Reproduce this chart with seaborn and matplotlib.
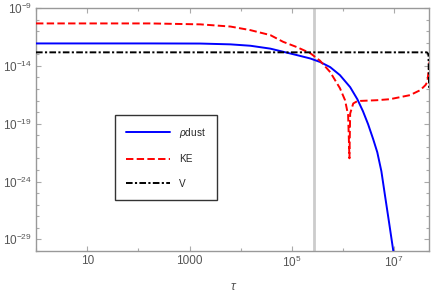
import matplotlib
matplotlib.use("Agg")
import matplotlib.pyplot as plt
from matplotlib.ticker import FixedLocator, FixedFormatter, NullFormatter
import seaborn as sns
import pandas as pd
import numpy as np

# データ (log10 tau と log10 値)
rho_log_tau = [0, 2.23, 3.21, 3.80, 4.19, 4.58, 4.83, 5.10, 5.36, 5.55, 5.75, 5.94, 6.14,
               6.28, 6.39, 6.49, 6.59, 6.67, 6.75, 6.82, 6.90, 6.99]
rho_log_val = [-12.06, -12.06, -12.07, -12.14, -12.26, -12.51, -12.78, -13.07, -13.36,
               -13.66, -14.11, -14.80, -15.84, -16.88, -17.92, -19.04, -20.34, -21.47,
               -23.11, -25.19, -27.53, -30.21]

ke_log_tau = [0, 2.23, 3.21, 3.80, 4.19, 4.58, 4.83, 5.10, 5.36, 5.55, 5.75, 5.94, 6.04,
              6.10, 6.126, 6.14, 6.20, 6.26, 6.34, 6.66, 6.92, 7.31, 7.51, 7.61, 7.65,
              7.67, 7.70]
ke_log_val = [-10.33, -10.33, -10.41, -10.60, -10.91, -11.34, -11.92, -12.38, -12.90,
              -13.55, -14.54, -15.93, -16.97, -18.26, -21.99, -18.12, -17.25, -17.10,
              -17.03, -16.97, -16.88, -16.53, -16.10, -15.67, -15.38, -14.52, -13.33]

v_log_tau = [0, 3, 6, 7.5, 7.64, 7.67, 7.683]
v_log_val = [-12.83, -12.83, -12.83, -12.83, -12.83, -13.0, -15.9]

tau_mark = 2.75e5

x_major = [10, 1000, 1e5, 1e7]
x_major_labels = ["10", "1000", r"$10^{5}$", r"$10^{7}$"]
x_minor = [1, 100, 1e4, 1e6]
y_major_exp = [-29, -24, -19, -14, -9]

rho_df = pd.DataFrame({"tau": 10.0 ** np.array(rho_log_tau), "val": 10.0 ** np.array(rho_log_val)})
ke_df = pd.DataFrame({"tau": 10.0 ** np.array(ke_log_tau), "val": 10.0 ** np.array(ke_log_val)})
v_df = pd.DataFrame({"tau": 10.0 ** np.array(v_log_tau), "val": 10.0 ** np.array(v_log_val)})

sns.set_style("ticks")
plt.rcParams["font.family"] = ["Liberation Sans", "DejaVu Sans"]
plt.rcParams["mathtext.fontset"] = "custom"
plt.rcParams["mathtext.rm"] = "Liberation Sans"
plt.rcParams["mathtext.it"] = "Liberation Sans:italic"
plt.rcParams["mathtext.default"] = "regular"

fig = plt.figure(figsize=(4.36, 2.98), dpi=100)
ax = fig.add_axes([0.0826, 0.158, 0.9014, 0.815])

ax.axvline(tau_mark, color="#cccccc", lw=2.0, zorder=1)

sns.lineplot(data=rho_df, x="tau", y="val", ax=ax, color="blue", lw=1.4,
             estimator=None, sort=False, label=r"$\mathit{\rho}$dust", zorder=3)
sns.lineplot(data=ke_df, x="tau", y="val", ax=ax, color="red", lw=1.4,
             estimator=None, sort=False, label="KE", zorder=3)
sns.lineplot(data=v_df, x="tau", y="val", ax=ax, color="black", lw=1.4,
             estimator=None, sort=False, label="V", zorder=3)
ax.lines[2].set_dashes([3.8, 1.7])
ax.lines[3].set_dashes([3.4, 1.2, 1.1, 1.2])

ax.set_xscale("log")
ax.set_yscale("log")
ax.set_xlim(1, 4.8e7)
ax.set_ylim(1e-30, 1e-9)

ax.xaxis.set_major_locator(FixedLocator(x_major))
ax.xaxis.set_major_formatter(FixedFormatter(x_major_labels))
ax.xaxis.set_minor_locator(FixedLocator(x_minor))
ax.xaxis.set_minor_formatter(NullFormatter())
ax.yaxis.set_major_locator(FixedLocator([10.0 ** e for e in y_major_exp]))
ax.yaxis.set_major_formatter(FixedFormatter([r"$10^{%d}$" % e for e in y_major_exp]))
ax.yaxis.set_minor_locator(FixedLocator([10.0 ** e for e in range(-30, -8) if e not in y_major_exp]))
ax.yaxis.set_minor_formatter(NullFormatter())

ax.tick_params(which="both", direction="in", top=True, right=True, color="#aaaaaa",
               labelcolor="#555555", labelsize=8.5, width=0.8)
ax.tick_params(which="major", length=3.5, pad=3)
ax.tick_params(which="minor", length=2)
for s in ax.spines.values():
    s.set_color("#999999")
    s.set_linewidth(1.0)

ax.set_xlabel("τ", fontstyle="italic", color="#555555", fontsize=9, labelpad=8)
ax.set_ylabel("")

leg = ax.legend(loc="upper left", bbox_to_anchor=(0.201, 0.5597), fontsize=7.2,
                frameon=True, fancybox=False, edgecolor="#333333", framealpha=1,
                handlelength=4.4, handletextpad=0.9, labelspacing=1.45,
                borderpad=1.1, borderaxespad=0)
leg.get_frame().set_linewidth(1.0)

fig.savefig("out.png", dpi=100)
